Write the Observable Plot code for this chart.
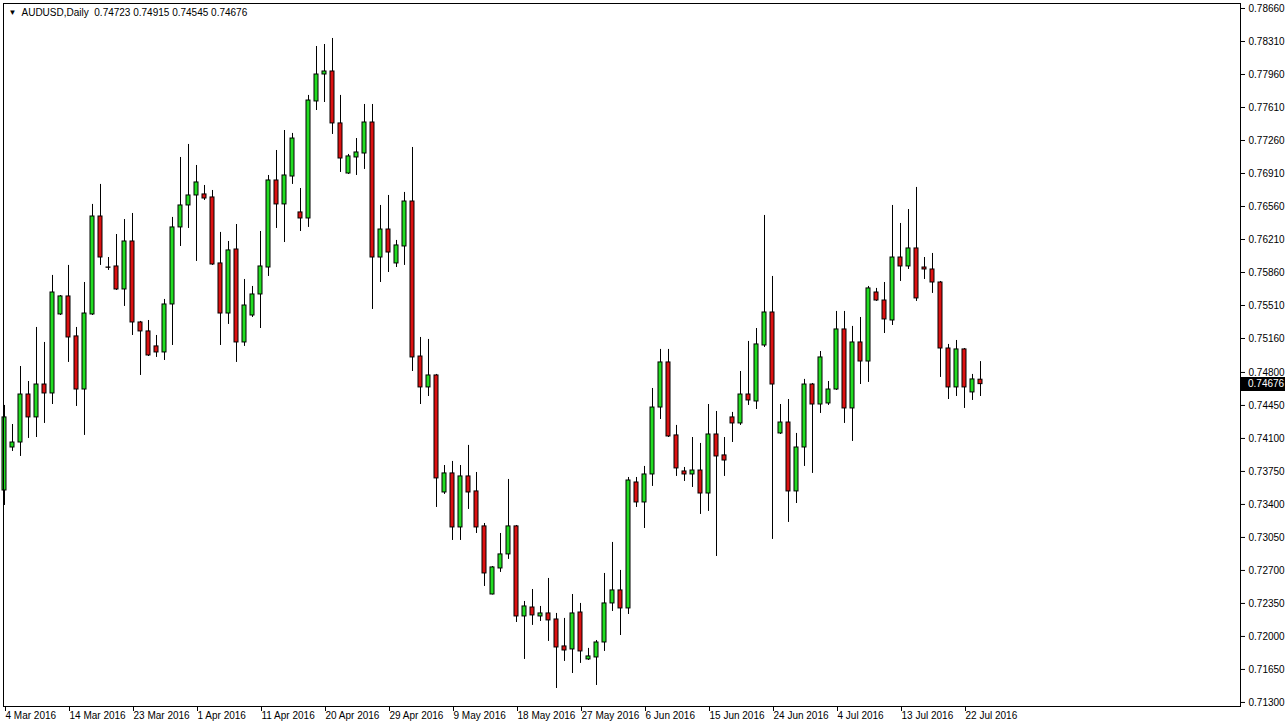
<!DOCTYPE html>
<html><head><meta charset="utf-8">
<script src="https://cdn.jsdelivr.net/npm/d3@7"></script>
<script src="https://cdn.jsdelivr.net/npm/@observablehq/plot@0.6"></script>
<style>html,body{margin:0;padding:0;background:#fff;overflow:hidden}</style>
</head><body><div id="chart"></div>
<script>
const symbol = "AUDUSD,Daily";
const dateLabels = ["4 Mar 2016","14 Mar 2016","23 Mar 2016","1 Apr 2016","11 Apr 2016","20 Apr 2016","29 Apr 2016","9 May 2016","18 May 2016","27 May 2016","6 Jun 2016","15 Jun 2016","24 Jun 2016","4 Jul 2016","13 Jul 2016","22 Jul 2016"];
const barsPerLabel = 8;
const priceTicks = [0.78660,0.78310,0.77960,0.77610,0.77260,0.76910,0.76560,0.76210,0.75860,0.75510,0.75160,0.74800,0.74450,0.74100,0.73750,0.73400,0.73050,0.72700,0.72350,0.72000,0.71650,0.71300];

const open = [0.73548,0.74004,0.74057,0.74566,0.74323,0.74672,0.74577,0.75415,0.75606,0.75182,
0.74619,0.75415,0.76454,0.75913,0.75924,0.75680,0.76189,0.75330,0.75235,0.75076,
0.75012,0.75521,0.76338,0.76571,0.76677,0.76688,0.76656,0.75956,0.75425,0.76104,
0.75118,0.75404,0.75627,0.75913,0.76836,0.76582,0.76878,0.76497,0.76433,0.77674,
0.77960,0.77992,0.77441,0.76910,0.77080,0.77122,0.77451,0.76019,0.76316,0.75956,
0.76136,0.76613,0.74969,0.74641,0.74768,0.73527,0.73729,0.73156,0.73697,0.73538,
0.73167,0.72445,0.72721,0.72870,0.73167,0.72212,0.72307,0.72212,0.72244,0.72180,
0.71894,0.71862,0.72254,0.71756,0.71777,0.71936,0.72350,0.72488,0.72297,0.73633,
0.73421,0.73718,0.74428,0.74906,0.74132,0.73750,0.73718,0.73760,0.73516,0.74142,
0.73920,0.74323,0.74259,0.74566,0.74492,0.75086,0.75436,0.74153,0.74269,0.73538,
0.74004,0.74672,0.74460,0.74471,0.74619,0.75256,0.74418,0.75118,0.74916,0.75648,
0.75563,0.75351,0.76019,0.75924,0.76115,0.75913,0.75892,0.75754,0.75054,0.74641,
0.75044,0.74588,0.74723];
const high = [0.74450,0.74248,0.74863,0.74704,0.75277,0.75118,0.75829,0.75616,0.75935,0.75277,
0.75754,0.76582,0.76794,0.76019,0.76263,0.76422,0.76486,0.75341,0.75351,0.75192,
0.75574,0.76444,0.77080,0.77218,0.76995,0.76783,0.76730,0.76285,0.76189,0.76369,
0.75786,0.75712,0.76295,0.76889,0.77154,0.77366,0.77335,0.76751,0.77738,0.78257,
0.78278,0.78342,0.77738,0.77112,0.77281,0.77642,0.77642,0.76571,0.76677,0.76200,
0.76709,0.77186,0.75171,0.75150,0.74779,0.73813,0.73856,0.73813,0.74026,0.73739,
0.73198,0.72742,0.73092,0.73665,0.73177,0.72371,0.72498,0.72318,0.72615,0.72244,
0.72191,0.72445,0.72350,0.71873,0.71957,0.72668,0.72997,0.72700,0.73686,0.73686,
0.73803,0.74630,0.75044,0.75044,0.74238,0.73792,0.74110,0.74047,0.74460,0.74386,
0.74110,0.74376,0.74810,0.75129,0.75266,0.76465,0.75818,0.74460,0.74513,0.74153,
0.74726,0.74683,0.75022,0.74704,0.75447,0.75447,0.75288,0.75383,0.75712,0.75691,
0.75754,0.76571,0.76380,0.76528,0.76762,0.76019,0.76062,0.75765,0.75097,0.75139,
0.75054,0.74779,0.74915];
const low = [0.73389,0.73962,0.73909,0.74100,0.74110,0.74259,0.74460,0.75404,0.74906,0.74439,
0.74132,0.75404,0.75935,0.75882,0.75669,0.75500,0.75192,0.74768,0.74969,0.74959,
0.74927,0.75086,0.76136,0.76327,0.75977,0.76624,0.75935,0.75086,0.75309,0.74906,
0.75076,0.75383,0.75266,0.75818,0.76327,0.76178,0.76794,0.76295,0.76338,0.77578,
0.77663,0.77324,0.76921,0.76900,0.76889,0.76953,0.75468,0.75754,0.75860,0.75913,
0.75935,0.74810,0.74460,0.74545,0.73368,0.73506,0.73018,0.73018,0.73347,0.73092,
0.72530,0.72440,0.72679,0.72817,0.72148,0.71756,0.72117,0.72159,0.71947,0.71448,
0.71735,0.71607,0.71714,0.71745,0.71480,0.71841,0.72265,0.72010,0.72233,0.73368,
0.73145,0.73591,0.74301,0.74110,0.73697,0.73644,0.73580,0.73294,0.73326,0.72848,
0.73697,0.74057,0.74238,0.74450,0.74407,0.75065,0.73029,0.74142,0.73209,0.73410,
0.73803,0.73729,0.74365,0.74450,0.74609,0.74259,0.74068,0.74672,0.74694,0.75553,
0.75213,0.75298,0.75765,0.75892,0.75553,0.75786,0.75638,0.74747,0.74513,0.74545,
0.74418,0.74503,0.74545];
const close = [0.74323,0.74057,0.74566,0.74323,0.74672,0.74577,0.75648,0.75606,0.75171,0.74619,
0.75425,0.76454,0.76019,0.75910,0.75680,0.76189,0.75330,0.75235,0.74980,0.75012,
0.75521,0.76338,0.76571,0.76677,0.76815,0.76645,0.75945,0.75425,0.76094,0.75118,
0.75510,0.75627,0.75924,0.76836,0.76582,0.76889,0.77281,0.76433,0.77684,0.77960,
0.77992,0.77441,0.77069,0.77091,0.77133,0.77451,0.76019,0.76316,0.76072,0.76147,
0.76613,0.74959,0.74641,0.74768,0.73676,0.73729,0.73156,0.73697,0.73527,0.73156,
0.72668,0.72732,0.72870,0.73167,0.72212,0.72318,0.72223,0.72244,0.72170,0.71883,
0.71851,0.72244,0.71841,0.71788,0.71936,0.72350,0.72488,0.72297,0.73654,0.73421,
0.73718,0.74428,0.74906,0.74121,0.73782,0.73718,0.73760,0.73516,0.74142,0.73909,
0.73866,0.74259,0.74566,0.74503,0.75097,0.75436,0.74672,0.74269,0.73538,0.74004,
0.74672,0.74460,0.74959,0.74619,0.75256,0.74418,0.75118,0.74916,0.75691,0.75563,
0.75362,0.76019,0.75924,0.76115,0.75585,0.75892,0.75754,0.75054,0.74641,0.75044,
0.74641,0.74726,0.74676];

const bull = "#22dd22", bear = "#dd1111";
const data = open.map((o, i) => ({i, open: o, high: high[i], low: low[i], close: close[i]}));
const last = data[data.length - 1];
const dateTicks = dateLabels.map((_, k) => k * barsPerLabel);
const font = "'Liberation Sans', Arial, sans-serif";

const chart = Plot.plot({
  width: 1286, height: 727,
  marginTop: 3, marginBottom: 21, marginLeft: 3, marginRight: 46,
  x: {type: "linear", domain: [-0.125, 154.5], axis: null},
  y: {domain: [0.71257, 0.78713], axis: null},
  style: {fontFamily: font, fontSize: "10px", background: "#fff", color: "#000"},
  marks: [
    Plot.ruleX(data, {x: "i", y1: "low", y2: "high", stroke: "#000", strokeWidth: 1}),
    Plot.rect(data, {x1: d => d.i - 0.25, x2: d => d.i + 0.25, y1: "open", y2: "close",
      fill: d => d.close >= d.open ? bull : bear, stroke: "#000", strokeWidth: 1}),
    Plot.frame({stroke: "#000"}),
    Plot.axisY({anchor: "right", ticks: priceTicks, tickSize: 4, tickPadding: 4,
      tickFormat: d => d.toFixed(5), label: null, fill: "#000"}),
    Plot.axisX({anchor: "bottom", ticks: dateTicks, tickSize: 4, tickPadding: 0,
      tickFormat: d => dateLabels[d / barsPerLabel], label: null, textAnchor: "start", dx: 1, dy: 1}),
    Plot.text(["▼"], {frameAnchor: "top-left", dx: 5, dy: 6, lineAnchor: "top", fontSize: 8}),
    Plot.text([`${symbol}  ${last.open.toFixed(5)} ${last.high.toFixed(5)} ${last.low.toFixed(5)} ${last.close.toFixed(5)}`],
      {frameAnchor: "top-left", dx: 18, dy: 5, lineAnchor: "top", textAnchor: "start", fontSize: 10})
  ]
});
document.getElementById("chart").appendChild(chart);

// current price label on the price axis
const yPos = chart.scale("y").apply(last.close);
const xRight = chart.scale("x").range[1];
const svg = d3.select(chart);
const g = svg.append("g").attr("text-anchor", "start");
g.append("rect").attr("x", xRight + 1).attr("y", Math.round(yPos) - 7).attr("width", 44).attr("height", 14).attr("fill", "#000");
g.append("text").attr("x", xRight + 8).attr("y", yPos).attr("dy", "0.35em").attr("fill", "#fff")
  .attr("text-anchor", "start").attr("font-family", font).attr("font-size", 10).text(last.close.toFixed(5));
</script></body></html>
